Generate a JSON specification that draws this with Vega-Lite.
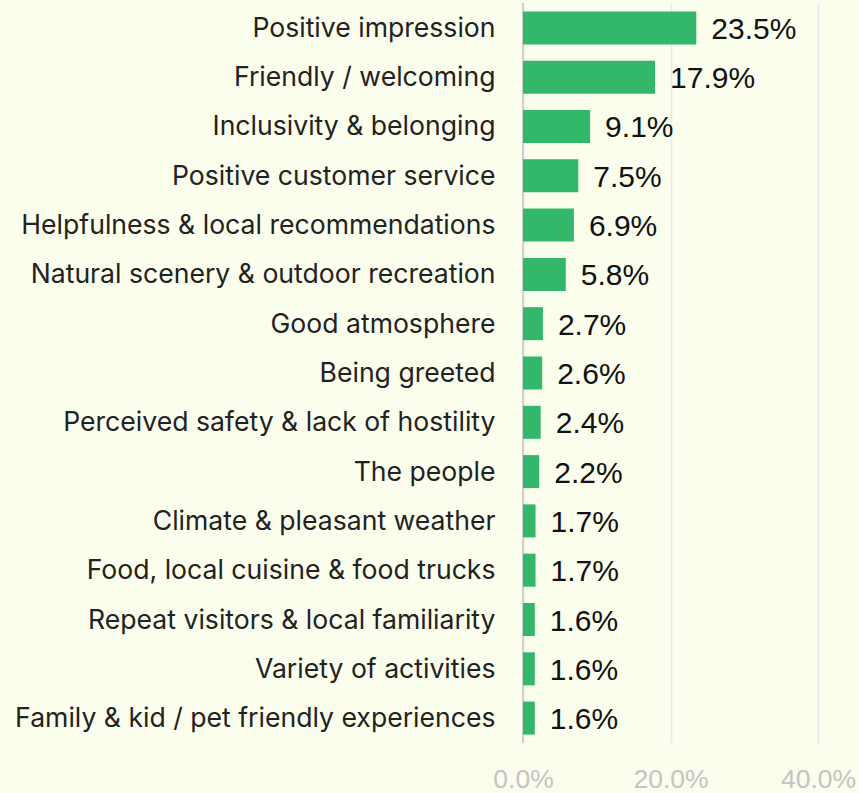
{
  "$schema": "https://vega.github.io/schema/vega-lite/v6.json",
  "autosize": {"type": "none"},
  "width": 295,
  "height": 740,
  "padding": {"left": 523, "top": 3, "right": 41, "bottom": 50},
  "background": "#FBFEEC",
  "config": {"view": {"stroke": null}},
  "data": {"values": [
    {"category": "Positive impression", "value": 0.235},
    {"category": "Friendly / welcoming\u2002", "value": 0.179},
    {"category": "Inclusivity & belonging", "value": 0.091},
    {"category": "Positive customer service", "value": 0.075},
    {"category": "Helpfulness & local recommendations", "value": 0.069},
    {"category": "Natural scenery & outdoor recreation", "value": 0.058},
    {"category": "Good atmosphere\u2002", "value": 0.027},
    {"category": "Being greeted", "value": 0.026},
    {"category": "Perceived safety & lack of hostility", "value": 0.024},
    {"category": "The people\u2002", "value": 0.022},
    {"category": "Climate & pleasant weather", "value": 0.017},
    {"category": "Food, local cuisine & food trucks", "value": 0.017},
    {"category": "Repeat visitors & local familiarity", "value": 0.016},
    {"category": "Variety of activities\u2002", "value": 0.016},
    {"category": "Family & kid / pet friendly experiences", "value": 0.016}
  ]},
  "encoding": {
    "y": {"field": "category", "type": "nominal", "sort": null,
      "scale": {"paddingInner": 0.33, "paddingOuter": 0.17},
      "axis": {"title": null, "ticks": false, "domain": false, "labelFont": "Inter", "labelFontSize": 26.6, "labelColor": "#222222", "labelPadding": 28, "labelLimit": 520, "labelOffset": 1}},
    "x": {"field": "value", "type": "quantitative",
      "scale": {"domain": [0, 0.4], "nice": false},
      "axis": {"title": null, "values": [0, 0.2, 0.4], "format": ".1%", "ticks": false, "domain": false, "grid": true, "gridColor": "#E8E8EE", "gridWidth": 1.5, "labelFont": "Liberation Sans", "labelFontSize": 26.5, "labelColor": "#C4C4C4", "labelPadding": 23, "labelFlush": false}}
  },
  "layer": [
    {"mark": {"type": "rule", "color": "#CFCFCF", "strokeWidth": 2}, "encoding": {"x": {"datum": 0}, "y": null}},
    {"mark": {"type": "bar", "color": "#33B76A"}},
    {"mark": {"type": "text", "align": "left", "baseline": "middle", "dx": 15, "dy": 2, "font": "Liberation Sans", "fontSize": 30, "color": "#111111"},
      "encoding": {"text": {"field": "value", "type": "quantitative", "format": ".1%"}}}
  ]
}
